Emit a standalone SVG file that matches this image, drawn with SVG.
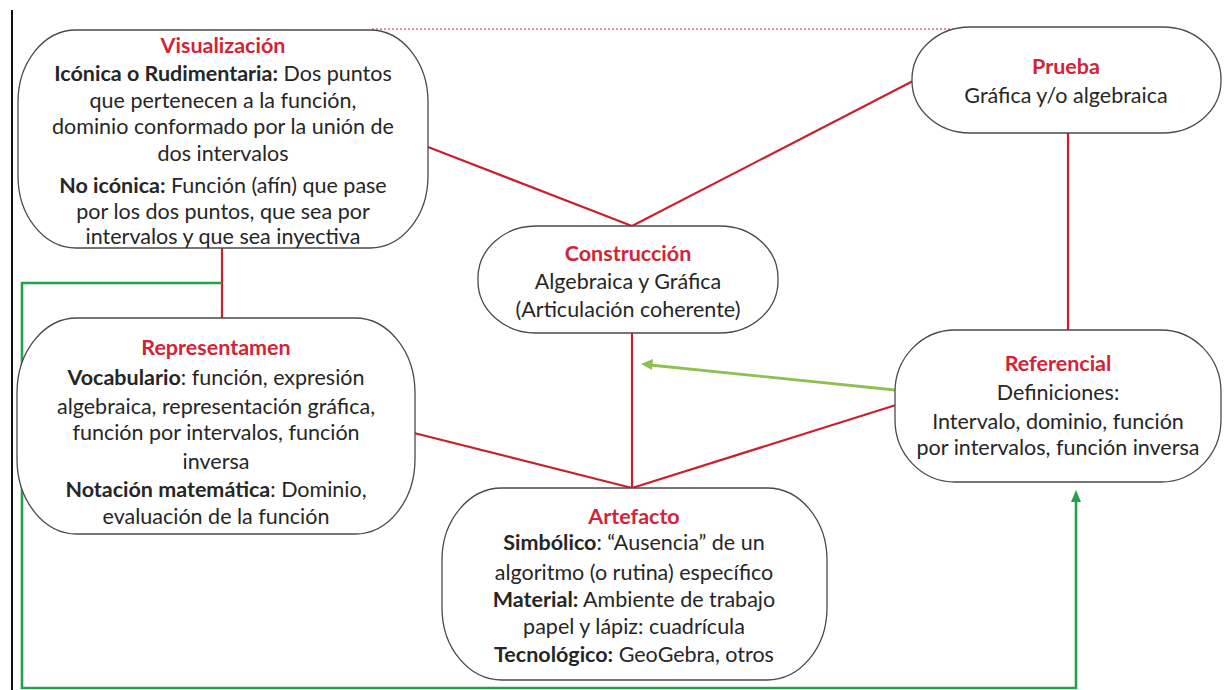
<svg xmlns="http://www.w3.org/2000/svg" width="1224" height="690" viewBox="0 0 1224 690">
<style>
.box{fill:#fff;stroke:#4a4a4a;stroke-width:1.3}
.red{stroke:#c8202e;stroke-width:2.2;fill:none}
.grn{stroke:#22a24a;stroke-width:2.6;fill:none}
.lgrn{stroke:#8cc152;stroke-width:2.8;fill:none}
text{font-family:Lato,"Liberation Sans",sans-serif;font-size:21.5px;fill:#262626;text-anchor:middle}
.t{fill:#d32335;font-weight:bold}
.b{font-weight:bold}
</style>
<rect width="1224" height="690" fill="#fff"/>
<line x1="12" y1="10" x2="12" y2="690" stroke="#111" stroke-width="2"/>
<g id="connectors">
<line x1="372" y1="29" x2="990" y2="29" stroke="#c8202e" stroke-width="1" stroke-dasharray="2,2"/>
<line class="red" x1="428" y1="147" x2="632" y2="226"/>
<line class="red" x1="913" y1="81" x2="632" y2="226"/>
<line class="red" x1="1068" y1="133" x2="1068" y2="331"/>
<line class="red" x1="222" y1="248" x2="222" y2="318"/>
<line class="red" x1="632" y1="333" x2="632" y2="488"/>
<line class="red" x1="414" y1="433" x2="632" y2="488"/>
<line class="red" x1="896" y1="405" x2="632" y2="488"/>
<line class="lgrn" x1="895" y1="390" x2="650" y2="365"/>
<polygon points="641,364 653,359 652,370" fill="#8cc152"/>
<polyline class="grn" points="222,283 22,283 22,688 1076,688 1076,500"/>
<polygon points="1076,490 1071,502 1081,502" fill="#22a24a"/>
</g>
<g id="visualizacion">
<rect class="box" x="18" y="30" width="410" height="218" rx="58" ry="72"/>
<text x="223" y="53" class="t">Visualización</text>
<text x="223" y="81"><tspan class="b">Icónica o Rudimentaria:</tspan> Dos puntos</text>
<text x="223" y="108">que pertenecen a la función,</text>
<text x="223" y="134">dominio conformado por la unión de</text>
<text x="223" y="161">dos intervalos</text>
<text x="223" y="193"><tspan class="b">No icónica:</tspan> Función (afín) que pase</text>
<text x="223" y="219">por los dos puntos, que sea por</text>
<text x="223" y="244">intervalos y que sea inyectiva</text>
</g>
<g id="prueba">
<rect class="box" x="912" y="27" width="309" height="106" rx="58" ry="52"/>
<text x="1066" y="74" class="t">Prueba</text>
<text x="1066" y="103">Gráfica y/o algebraica</text>
</g>
<g id="construccion">
<rect class="box" x="478" y="226" width="300" height="107" rx="58" ry="52"/>
<text x="628" y="261" class="t">Construcción</text>
<text x="628" y="289">Algebraica y Gráfica</text>
<text x="628" y="317">(Articulación coherente)</text>
</g>
<g id="referencial">
<rect class="box" x="895" y="330" width="326" height="152" rx="60" ry="62"/>
<text x="1058" y="371" class="t">Referencial</text>
<text x="1058" y="400">Definiciones:</text>
<text x="1058" y="429">Intervalo, dominio, función</text>
<text x="1058" y="455">por intervalos, función inversa</text>
</g>
<g id="representamen">
<rect class="box" x="17" y="318" width="398" height="216" rx="60" ry="75"/>
<text x="216" y="355" class="t">Representamen</text>
<text x="216" y="385"><tspan class="b">Vocabulario</tspan>: función, expresión</text>
<text x="216" y="414">algebraica, representación gráfica,</text>
<text x="216" y="440">función por intervalos, función</text>
<text x="216" y="469">inversa</text>
<text x="216" y="497"><tspan class="b">Notación matemática</tspan>: Dominio,</text>
<text x="216" y="524">evaluación de la función</text>
</g>
<g id="artefacto">
<rect class="box" x="442" y="488" width="385" height="192" rx="60" ry="72"/>
<text x="634" y="524" class="t">Artefacto</text>
<text x="634" y="550"><tspan class="b">Simbólico</tspan>: “Ausencia” de un</text>
<text x="634" y="580">algoritmo (o rutina) específico</text>
<text x="634" y="607"><tspan class="b">Material:</tspan> Ambiente de trabajo</text>
<text x="634" y="634">papel y lápiz: cuadrícula</text>
<text x="634" y="662"><tspan class="b">Tecnológico:</tspan> GeoGebra, otros</text>
</g>
</svg>
